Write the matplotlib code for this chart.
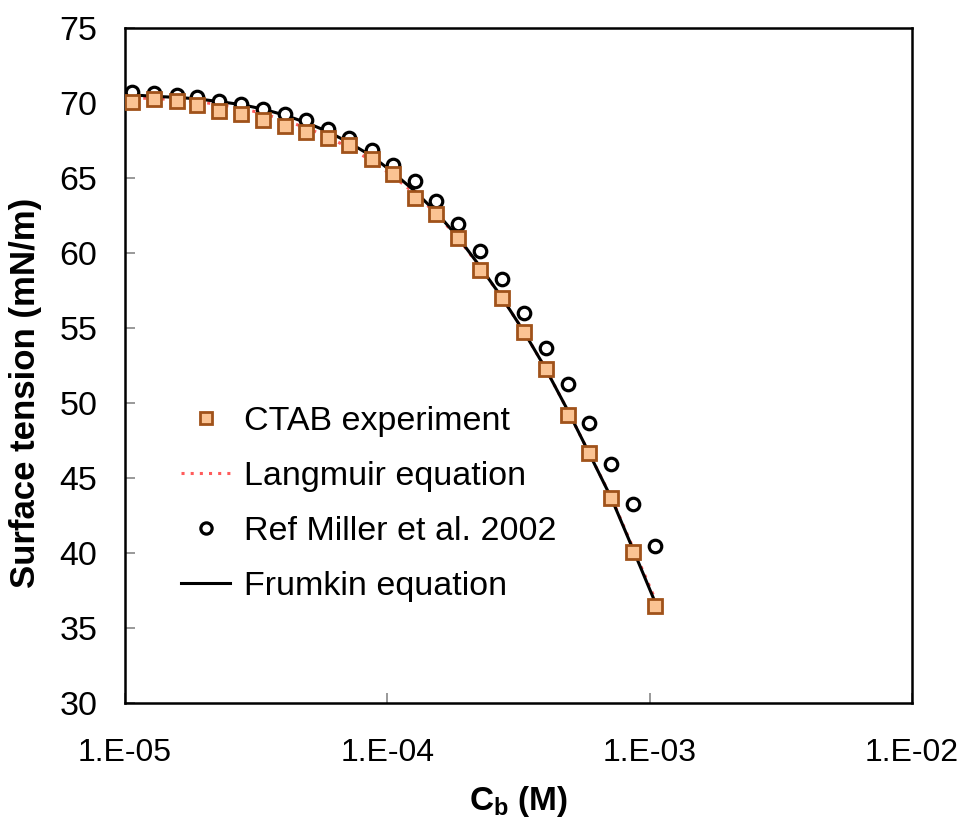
import matplotlib
matplotlib.use('Agg')
import matplotlib.pyplot as plt
from matplotlib.ticker import FixedLocator, FuncFormatter, NullLocator

# 数据
conc = [1.060e-5, 1.289e-5, 1.573e-5, 1.890e-5, 2.284e-5, 2.778e-5, 3.357e-5,
        4.059e-5, 4.909e-5, 5.93e-5, 7.17e-5, 8.75e-5, 1.047e-4, 1.278e-4,
        1.540e-4, 1.862e-4, 2.258e-4, 2.744e-4, 3.319e-4, 4.012e-4, 4.878e-4,
        5.864e-4, 7.152e-4, 8.618e-4, 1.045e-3]
ctab = [70.1, 70.25, 70.15, 69.9, 69.5, 69.3, 68.85, 68.45, 68.1, 67.7, 67.2,
        66.25, 65.3, 63.7, 62.6, 61.0, 58.9, 57.0, 54.75, 52.3, 49.2, 46.7,
        43.7, 40.1, 36.5]
miller = [70.75, 70.65, 70.55, 70.4, 70.15, 69.95, 69.6, 69.3, 68.9, 68.3,
          67.7, 66.9, 65.9, 64.8, 63.5, 61.95, 60.15, 58.25, 56.0, 53.7,
          51.25, 48.7, 45.95, 43.3, 40.5]

line_conc = [1.0e-5] + conc
frumkin = [70.6, 70.55, 70.45, 70.38, 70.28, 70.1, 69.9, 69.6, 69.2, 68.7,
           68.1, 67.35, 66.45, 65.4, 64.1, 62.7, 61.05, 59.1, 57.0, 54.75,
           52.3, 49.5, 46.7, 43.65, 40.3, 36.8]
langmuir = [70.4, 70.35, 70.3, 70.22, 70.1, 69.9, 69.65, 69.3, 68.85, 68.35,
            67.75, 67.0, 66.15, 65.15, 63.95, 62.6, 61.0, 59.05, 57.0, 54.75,
            52.3, 49.5, 46.7, 43.7, 40.4, 37.0]

xticks = [1e-5, 1e-4, 1e-3, 1e-2]
xtick_labels = ['1.E-05', '1.E-04', '1.E-03', '1.E-02']
yticks = [30, 35, 40, 45, 50, 55, 60, 65, 70, 75]

plt.rcParams['font.family'] = ['Liberation Sans', 'DejaVu Sans']
plt.rcParams['mathtext.fontset'] = 'custom'
plt.rcParams['mathtext.rm'] = 'Liberation Sans'
plt.rcParams['mathtext.bf'] = 'Liberation Sans:bold'

fig = plt.figure(figsize=(9.65, 8.26), dpi=100)
ax = fig.add_axes([0.1295, 0.1489, 0.8155, 0.8171])

ax.plot(line_conc, langmuir, linestyle=(0, (1, 2)), color='#ff5b5b', lw=2.2,
        zorder=2, label='Langmuir equation')
ax.plot(line_conc, frumkin, color='black', lw=2.2, zorder=3,
        label='Frumkin equation')
ax.plot(conc, miller, linestyle='none', marker='o', markersize=9,
        markerfacecolor='white', markeredgecolor='black', markeredgewidth=2.3,
        zorder=4, label='Ref Miller et al. 2002')
ax.plot(conc, ctab, linestyle='none', marker='s', markersize=10,
        markerfacecolor='#fbc393', markeredgecolor='#a0521a', markeredgewidth=2.0,
        zorder=5, label='CTAB experiment')

ax.set_xscale('log')
ax.set_xlim(1e-5, 1e-2)
ax.set_ylim(30, 75)
ax.xaxis.set_major_locator(FixedLocator(xticks))
ax.xaxis.set_minor_locator(NullLocator())
ax.xaxis.set_major_formatter(FuncFormatter(lambda v, p: xtick_labels[xticks.index(v)] if v in xticks else ''))
ax.set_yticks(yticks)

ax.tick_params(axis='both', direction='in', length=7, width=1.2, color='#888888')
ax.tick_params(axis='x', pad=25, labelsize=23)
ax.tick_params(axis='y', pad=20, labelsize=24.5)
for s in ax.spines.values():
    s.set_linewidth(1.8)
    s.set_color('black')

ax.set_ylabel('Surface tension (mN/m)', fontsize=25, fontweight='bold')
ax.yaxis.set_label_coords(-0.106, 0.46)
ax.set_xlabel(r'$\mathbf{C_b}$ (M)', fontsize=24, fontweight='bold',
              labelpad=12)

handles, labels = ax.get_legend_handles_labels()
order = [3, 0, 2, 1]
leg = ax.legend([handles[i] for i in order], [labels[i] for i in order],
                loc='upper left', bbox_to_anchor=(0.071, 0.44), frameon=False,
                fontsize=24.5, handlelength=1.45, handletextpad=0.4,
                labelspacing=0.7, borderpad=0, borderaxespad=0, markerscale=0.9)

plt.savefig('out.png', dpi=100)
plt.close()
